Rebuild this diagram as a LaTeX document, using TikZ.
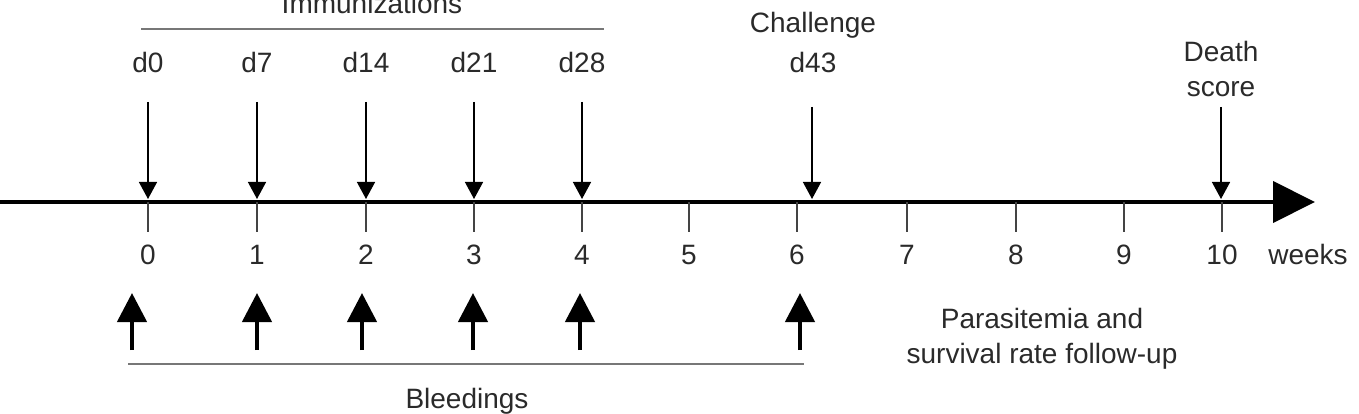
\documentclass[tikz,border=0pt]{standalone}
\usepackage{fontspec}
\setmainfont{Liberation Sans}
\usetikzlibrary{arrows.meta}
\definecolor{txt}{HTML}{2A2A2A}
\definecolor{brk}{HTML}{777777}
\definecolor{tck}{HTML}{444444}
\begin{document}
\begin{tikzpicture}[x=1pt,y=-1pt,
  lbl/.style={inner sep=0pt,anchor=base,text=txt,font=\fontsize{28}{35}\selectfont},
  mlbl/.style={lbl,align=center},
  brkline/.style={draw=brk,line width=2.5pt},
  thinarrow/.style={draw=black,line width=1.4pt,-{Triangle[width=18pt,length=17pt]}},
  bleedarrow/.style={draw=black,line width=4.5pt,-{Triangle[width=29pt,length=29pt]}},
  tickline/.style={draw=tck,line width=1.5pt},
  axis/.style={draw=black,line width=4pt,-{Triangle[width=41pt,length=42pt]}}]
\useasboundingbox (0,0) rectangle (1359,414);
% axis
\coordinate (axs) at (-5,202);
\coordinate (axe) at (1315,202);
\draw[axis] (axs) -- (axe);
% ticks and labels
\foreach \n/\x in {0/148,1/257,2/366,3/474,4/582,5/689,6/797,7/907,8/1016,9/1124,10/1222}{
  \coordinate (t\n) at (\x,202);
  \coordinate (tb\n) at (\x,232);
  \draw[tickline] (t\n) -- (tb\n);
  \node[lbl] (n\n) at (\x,264) {\n};
}
\node[lbl] (weeks) at (1308,264) {weeks};
% immunizations
\node[lbl] (imm) at (372,14) {Immunizations};
\coordinate (iml) at (141,29);
\coordinate (imr) at (604,29);
\draw[brkline] (iml) -- (imr);
\foreach \n/\d in {0/d0,1/d7,2/d14,3/d21,4/d28}{
  \path (t\n) ++(0,-100) coordinate (ia\n);
  \path (t\n) ++(0,-3) coordinate (ib\n);
  \path (t\n) ++(0,-129) node[lbl] (dl\n) {\d};
  \draw[thinarrow] (ia\n) -- (ib\n);
}
% challenge
\node[lbl] (chal) at (813,33) {Challenge};
\node[lbl] (d43) at (813,73) {d43};
\coordinate (ca) at (812,107);
\coordinate (cb) at (812,199);
\draw[thinarrow] (ca) -- (cb);
% death score
\node[mlbl] (death) at (1221,97) {Death\\score};
\coordinate (da) at (1221,107);
\coordinate (db) at (1221,199);
\draw[thinarrow] (da) -- (db);
% bleedings
\foreach \n/\x in {0/132,1/257,2/362,3/473,4/580,6/800}{
  \coordinate (ba\n) at (\x,350);
  \coordinate (bb\n) at (\x,293);
  \draw[bleedarrow] (ba\n) -- (bb\n);
}
\coordinate (bl) at (128,364);
\coordinate (br) at (804,364);
\draw[brkline] (bl) -- (br);
\node[lbl] (bleed) at (467,408) {Bleedings};
% follow-up
\node[mlbl] (follow) at (1042,363) {Parasitemia and\\survival rate follow-up};
\end{tikzpicture}
\end{document}
